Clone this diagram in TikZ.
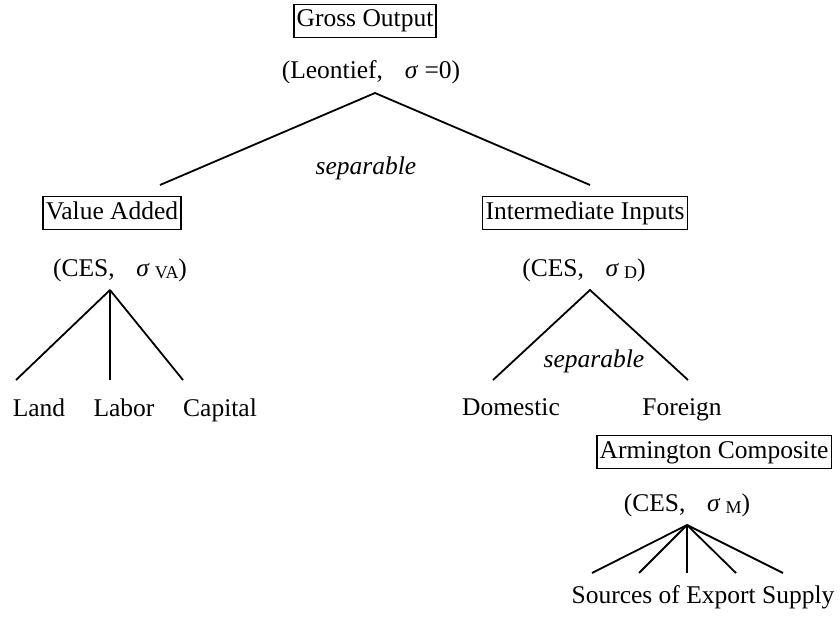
\documentclass[tikz,border=0pt]{standalone}
\usepackage{fontspec}
\setmainfont{Liberation Serif}
\begin{document}
\begin{tikzpicture}[x=1pt,y=-1pt,
  every node/.style={font=\fontsize{25.5}{30}\selectfont, inner sep=0pt},
  lbl/.style={anchor=base},
  boxed/.style={draw, line width=1.8pt, inner xsep=3pt, minimum height=33pt, text depth=6pt, text height=18pt},
  sepl/.style={anchor=base, font=\fontsize{25.5}{30}\selectfont\itshape},
  branch/.style={line width=1.8pt}]
\useasboundingbox (0,0) rectangle (840,618);
\newcommand{\sg}[1]{\hspace{0.85em}\textit{σ}\hspace{0.2em}\raisebox{-0.25ex}{\fontsize{18}{20}\selectfont #1}}
% top
\node[boxed] (go) at (365,21) {Gross Output};
\node[lbl] (leon) at (371,78) {(Leontief,\hspace{0.85em}\textit{σ} =0)};
\coordinate (a0) at (375,93);
\coordinate (l0) at (160,185);
\coordinate (r0) at (590,185);
\draw[branch] (l0) -- (a0) -- (r0);
\node[sepl] (sep1) at (366,174) {separable};
% value added
\node[boxed] (va) at (112,213) {Value Added};
\node[lbl] (cesva) at (120,276) {(CES,\sg{VA})};
\coordinate (a1) at (110,290);
\coordinate (e11) at (16,380);
\coordinate (e12) at (110,380);
\coordinate (e13) at (183,380);
\draw[branch] (a1) -- (e11);
\draw[branch] (a1) -- (e12);
\draw[branch] (a1) -- (e13);
\node[lbl] (land) at (39,416) {Land};
\node[lbl] (labor) at (124,416) {Labor};
\node[lbl] (capital) at (220,416) {Capital};
% intermediate
\node[boxed] (ii) at (585,213) {Intermediate Inputs};
\node[lbl] (cesd) at (584,276) {(CES,\sg{D})};
\coordinate (a2) at (590,290);
\coordinate (e21) at (493,380);
\coordinate (e22) at (688,380);
\draw[branch] (e21) -- (a2) -- (e22);
\node[sepl] (sep2) at (594,367) {separable};
\node[lbl] (dom) at (511,415) {Domestic};
\node[lbl] (for) at (682,415) {Foreign};
% armington
\node[boxed] (arm) at (714,452) {Armington Composite};
\node[lbl] (cesm) at (687,511) {(CES,\sg{M})};
\coordinate (a3) at (687,525);
\foreach \i/\x in {1/592,2/639,3/687,4/736,5/783} {
  \coordinate (e3\i) at (\x,573);
  \draw[branch] (a3) -- (e3\i);
}
\node[lbl] (src) at (703,603) {Sources of Export Supply};
\end{tikzpicture}
\end{document}
